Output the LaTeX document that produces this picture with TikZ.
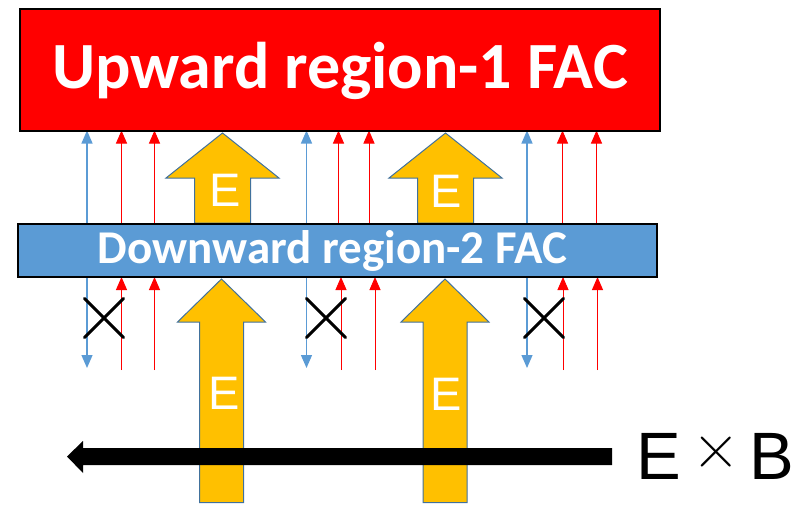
\documentclass[tikz,border=0pt]{standalone}
\usepackage{fontspec}
\setmainfont{Liberation Sans}
\newfontfamily\calfont{Carlito}
\newfontfamily\lmfont{Latin Modern Roman}
\usetikzlibrary{arrows.meta}
\definecolor{pred}{HTML}{FF0000}
\definecolor{pblue}{HTML}{5B9BD5}
\definecolor{porange}{HTML}{FFC000}
\definecolor{pedge}{HTML}{41719C}
\begin{document}
\begin{tikzpicture}[x=1pt,y=-1pt,
  tipend/.style={-{Triangle[width=11pt,length=13pt]}},
  bluearr/.style={draw=pblue,line width=1.3pt,tipend},
  redarr/.style={draw=pred,line width=1pt,tipend},
  fatarrow/.style={fill=porange,draw=pedge,line width=1pt,line join=miter},
  boxstyle/.style={draw=black,line width=2pt,inner sep=0pt,outer sep=0pt},
  crossmark/.style={draw=black,line width=3pt,line cap=round},
  elabel/.style={text=white,font=\fontsize{47}{50}\selectfont,anchor=base,inner sep=0pt},
  exbfont/.style={inner sep=0pt,font=\fontsize{67}{70}\selectfont},
]
\useasboundingbox (0,0) rectangle (796,504);

% box nodes (geometry)
\path (340,69.5) node[boxstyle,fill=pred,minimum width=640pt,minimum height=122pt] (r1) {};
\path (337.5,250.5) node[boxstyle,fill=pblue,minimum width=639pt,minimum height=53pt] (b2) {};

% thin field-aligned current arrows
\foreach \xb in {87,306.5,527}{
  \draw[bluearr] (\xb,0 |- b2.north) -- (\xb,0 |- r1.south);
  \draw[bluearr] (\xb,0 |- b2.south) -- (\xb,368);
}
\foreach \xr in {121.5,154.5,338.5,369,562.5,596.5}{
  \draw[redarr] (\xr,0 |- b2.north) -- (\xr,0 |- r1.south);
}
\foreach \xr in {121.5,154.5,341,375,563,597.5}{
  \draw[redarr] (\xr,370) -- (\xr,0 |- b2.south);
}

% orange E arrows, upper
\foreach \c in {222.5,445.5}{
  \filldraw[fatarrow] (\c-28,223) -- (\c-28,178) -- (\c-56.5,178) -- (\c,133)
     -- (\c+56.5,178) -- (\c+28,178) -- (\c+28,223) -- cycle;
}
% orange E arrows, lower
\foreach \c in {221.5,445}{
  \filldraw[fatarrow] (\c-22,502.5) -- (\c-22,322) -- (\c-44,322) -- (\c,279)
     -- (\c+44,322) -- (\c+22,322) -- (\c+22,502.5) -- cycle;
}

% redraw boxes on top
\path (340,69.5) node[boxstyle,fill=pred,minimum width=640pt,minimum height=122pt] (r1b) {};
\path (337.5,250.5) node[boxstyle,fill=pblue,minimum width=639pt,minimum height=53pt] (b2b) {};

% box texts
\node[text=white,anchor=base,inner sep=0pt,font=\calfont\bfseries\fontsize{66}{70}\selectfont] (t1) at (340,88) {Upward region-1 FAC};
\node[text=white,anchor=base,inner sep=0pt,font=\calfont\bfseries\fontsize{47}{50}\selectfont] (t2) at (332.5,263) {Downward region-2 FAC};

% E labels
\node[elabel] (e1) at (225,206) {E};
\node[elabel] (e2) at (446,207) {E};
\node[elabel] (e3) at (224,409) {E};
\node[elabel] (e4) at (446,410) {E};

% crosses
\foreach \cx in {104,326,544}{
  \draw[crossmark] (\cx-19.5,298.5) -- (\cx+19.5,337.5);
  \draw[crossmark] (\cx-19.5,337.5) -- (\cx+19.5,298.5);
}

% E x B label and drift arrow
\node[exbfont,anchor=base west] (exbE) at (636.5,479) {E};
\node[exbfont,anchor=base east] (exbB) at (794,479) {B};
\node[inner sep=0pt,font=\lmfont\fontsize{66}{68}\selectfont] (exbX) at (716,453) {×};
\fill[black] (612,448) -- (83,448) -- (83,441) -- (67,456.5) -- (83,473) -- (83,465) -- (612,465) -- cycle;
\end{tikzpicture}
\end{document}
